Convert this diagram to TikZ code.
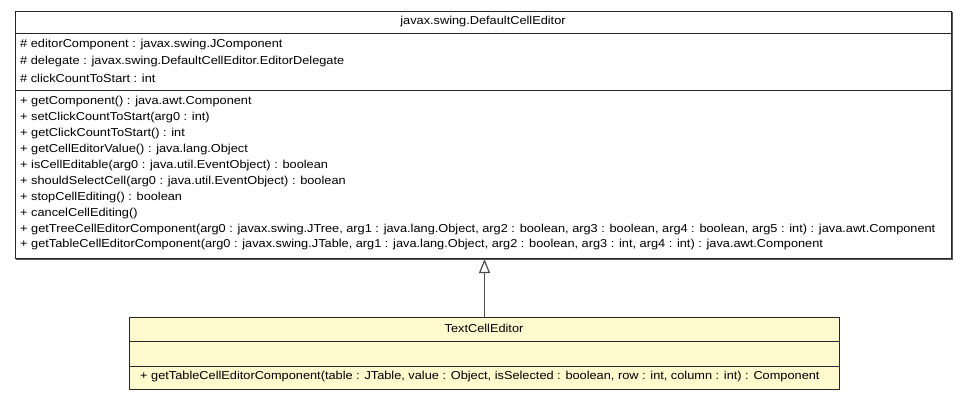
\documentclass[tikz,border=0pt]{standalone}
\usepackage{fontspec}
\setmainfont{Liberation Sans}[FakeStretch=1.11]
\usetikzlibrary{arrows.meta}
\definecolor{clsyellow}{RGB}{255,249,206}
\begin{document}
\begin{tikzpicture}[x=1pt,y=-1pt,
  box/.style={draw=black!85,line width=1pt,inner sep=0pt,anchor=north west},
  shade/.style={fill=black!65},
  txt/.style={anchor=west,inner sep=0pt,font=\fontsize{11.5}{13}\selectfont},
  ttl/.style={anchor=center,inner sep=0pt,font=\fontsize{11.5}{13}\selectfont},
  divider/.style={draw=black!85,line width=1pt},
  gen/.style={draw=black!70,line width=1.2pt,-{Triangle[open,length=14pt,width=11pt,line width=1.2pt]}}
]
\useasboundingbox (0,0) rectangle (968,400);
% super class
\fill[shade] (16,12) rectangle (952.8,259.8);
\node[box,fill=white,minimum width=936pt,minimum height=247pt] (super) at (15,11) {};
\draw[divider] (15,33) -- (951,33);
\draw[divider] (15,90) -- (951,90);
\node[ttl] (supt) at (483,22) {javax.swing.DefaultCellEditor};
\node[txt] (a1) at (20,45) {\# editorComponent : javax.swing.JComponent};
\node[txt] (a2) at (20,62) {\# delegate : javax.swing.DefaultCellEditor.EditorDelegate};
\node[txt] (a3) at (20,78) {\# clickCountToStart : int};
\node[txt] (m1) at (20,102) {+ getComponent() : java.awt.Component};
\node[txt] (m2) at (20,118) {+ setClickCountToStart(arg0 : int)};
\node[txt] (m3) at (20,133.5) {+ getClickCountToStart() : int};
\node[txt] (m4) at (20,149.5) {+ getCellEditorValue() : java.lang.Object};
\node[txt] (m5) at (20,165.5) {+ isCellEditable(arg0 : java.util.EventObject) : boolean};
\node[txt] (m6) at (20,181.5) {+ shouldSelectCell(arg0 : java.util.EventObject) : boolean};
\node[txt] (m7) at (20,197.5) {+ stopCellEditing() : boolean};
\node[txt] (m8) at (20,213.5) {+ cancelCellEditing()};
\node[txt] (m9) at (20,229.5) {+ getTreeCellEditorComponent(arg0 : javax.swing.JTree, arg1 : java.lang.Object, arg2 : boolean, arg3 : boolean, arg4 : boolean, arg5 : int) : java.awt.Component};
\node[txt] (m10) at (20,245) {+ getTableCellEditorComponent(arg0 : javax.swing.JTable, arg1 : java.lang.Object, arg2 : boolean, arg3 : int, arg4 : int) : java.awt.Component};
% sub class
\fill[shade] (130,318) rectangle (840,390);
\node[box,fill=clsyellow,minimum width=710pt,minimum height=72pt] (sub) at (129,317) {};
\draw[divider] (129,341) -- (839,341);
\draw[divider] (129,366) -- (839,366);
\node[ttl] (subt) at (484,328.5) {TextCellEditor};
\node[txt] (sm1) at (140,377) {+ getTableCellEditorComponent(table : JTable, value : Object, isSelected : boolean, row : int, column : int) : Component};
% generalization
\draw[gen] (sub.north) -- (sub.north |- super.south);
\end{tikzpicture}
\end{document}
